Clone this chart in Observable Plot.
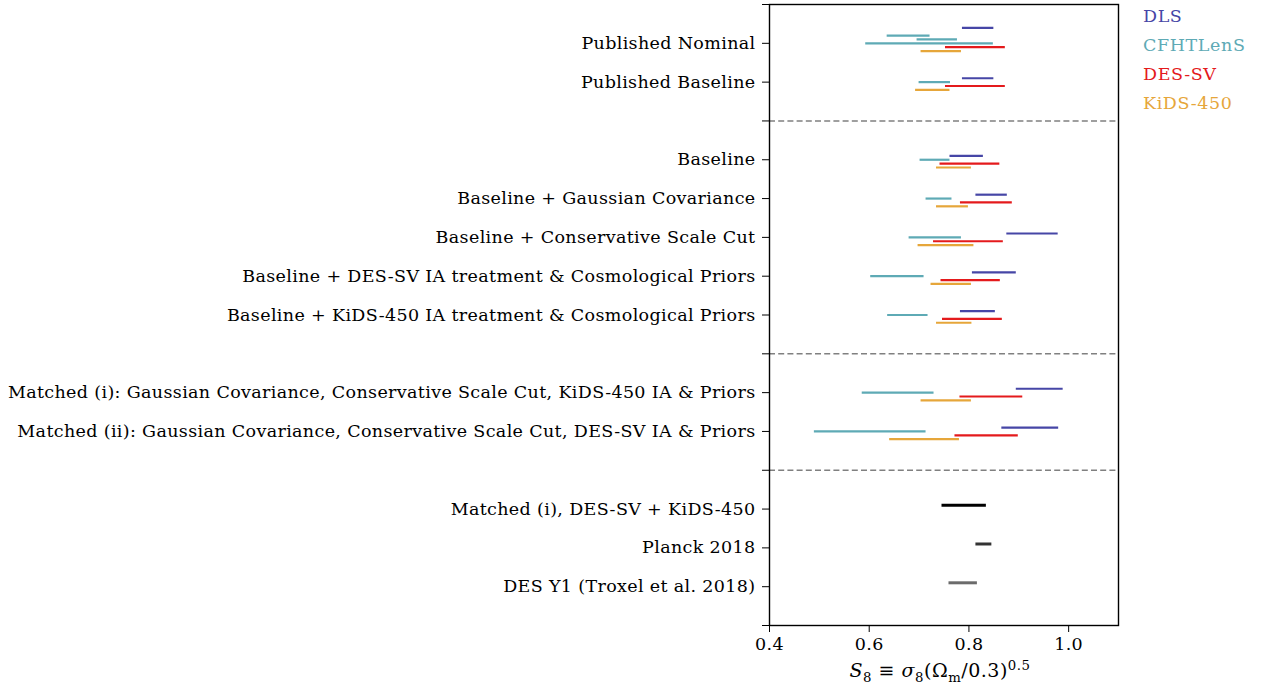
<!DOCTYPE html>
<html>
<head>
<meta charset="utf-8">
<script src="https://cdn.jsdelivr.net/npm/d3@7"></script>
<script src="https://cdn.jsdelivr.net/npm/@observablehq/plot@0.6"></script>
<style>
  body { margin: 0; background: #fff; }
  #wrap { position: relative; width: 1261px; height: 693px; font-family: "DejaVu Serif", serif; }
  #legend { position: absolute; left: 1143px; top: 2px; font-size: 17.5px; letter-spacing: 0.6px; line-height: 29px; }
  #xlabel { position: absolute; left: 0; width: 1261px; top: 659px; font-size: 19px; letter-spacing: 0.5px; }
  #xlabel span.inner { position: absolute; left: 940px; transform: translateX(-50%); white-space: nowrap; }
  sub, sup { font-size: 70%; line-height: 0; }
</style>
</head>
<body>
<div id="wrap"></div>
<script>
// ---- data ----
const rowLabels = [
  "",
  "Published Nominal",
  "Published Baseline",
  "",
  "Baseline",
  "Baseline + Gaussian Covariance",
  "Baseline + Conservative Scale Cut",
  "Baseline + DES-SV IA treatment & Cosmological Priors",
  "Baseline + KiDS-450 IA treatment & Cosmological Priors",
  "",
  "Matched (i): Gaussian Covariance, Conservative Scale Cut, KiDS-450 IA & Priors",
  "Matched (ii): Gaussian Covariance, Conservative Scale Cut, DES-SV IA & Priors",
  "",
  "Matched (i), DES-SV + KiDS-450",
  "Planck 2018",
  "DES Y1 (Troxel et al. 2018)",
  ""
];
const separatorRows = [3, 9, 12];

const surveys = ["DLS", "CFHTLenS", "DES-SV", "KiDS-450"];
const surveyColors = ["#4646a6", "#5eaab5", "#e41a1c", "#e6a63a"];
const surveyOffsets = [-0.1, 0, 0.1, 0.2];

// rows for the survey comparisons
const surveyRows = [1, 2, 4, 5, 6, 7, 8, 10, 11];
const dlsRanges = [[0.787,0.850],[0.787,0.850],[0.762,0.829],[0.814,0.877],[0.876,0.979],[0.807,0.895],[0.783,0.853],[0.895,0.989],[0.866,0.980]];
const cfhtRanges = [[0.593,0.849],[0.700,0.763],[0.702,0.762],[0.714,0.766],[0.680,0.785],[0.603,0.710],[0.637,0.718],[0.586,0.730],[0.490,0.714]];
const desRanges = [[0.753,0.873],[0.753,0.873],[0.742,0.862],[0.783,0.887],[0.729,0.869],[0.744,0.863],[0.747,0.867],[0.782,0.908],[0.772,0.899]];
const kidsRanges = [[0.704,0.785],[0.693,0.762],[0.735,0.805],[0.735,0.799],[0.698,0.810],[0.724,0.805],[0.735,0.806],[0.704,0.805],[0.641,0.781]];

// extra published-nominal CFHTLenS results and DLS offset in that row
const cfhtNominalExtra = [[0.636,0.722],[0.696,0.777]];
const cfhtNominalExtraOffsets = [-0.2, -0.1];
const dlsNominalOffset = -0.4;

// combined / external constraints
const combinedRows = [13, 14, 15];
const combinedRanges = [[0.746,0.835],[0.814,0.846],[0.760,0.817]];
const combinedColors = ["#000000", "#333333", "#6b6b6b"];
const combinedOffset = -0.1;

const xTicks = [0.4, 0.6, 0.8, 1.0];

// ---- build segments ----
const allRanges = [dlsRanges, cfhtRanges, desRanges, kidsRanges];
const segs = [];
allRanges.forEach((ranges, s) => {
  ranges.forEach((r, i) => {
    const row = surveyRows[i];
    let off = surveyOffsets[s];
    if (s === 0 && row === 1) off = dlsNominalOffset;
    segs.push({x1: r[0], x2: r[1], y: row + off, color: surveyColors[s], w: 2.2});
  });
});
cfhtNominalExtra.forEach((r, i) => {
  segs.push({x1: r[0], x2: r[1], y: 1 + cfhtNominalExtraOffsets[i], color: surveyColors[1], w: 2.2});
});
combinedRanges.forEach((r, i) => {
  segs.push({x1: r[0], x2: r[1], y: combinedRows[i] + combinedOffset, color: combinedColors[i], w: 3});
});

const font = '"DejaVu Serif", serif';

const chart = Plot.plot({
  width: 1261,
  height: 658,
  marginLeft: 769,
  marginRight: 143,
  marginTop: 4,
  marginBottom: 33,
  style: {fontFamily: font, fontSize: "17.5px", letterSpacing: "0.35px", background: "#fff", color: "#000"},
  x: {domain: [0.4, 1.1]},
  y: {domain: [0, 16], reverse: true},
  marks: [
    Plot.ruleY(separatorRows, {stroke: "#808080", strokeWidth: 1.6, strokeDasharray: "6,3.2"}),
    Plot.ruleY(segs, {x1: "x1", x2: "x2", y: "y", stroke: "color", strokeWidth: "w"}),
    Plot.frame({stroke: "#000", strokeWidth: 1.4}),
    Plot.axisY({
      ticks: d3.range(0, rowLabels.length),
      tickFormat: (d) => rowLabels[d] ?? "",
      tickSize: 7,
      tickPadding: 7,
      label: null,
      fontSize: 17.5
    }),
    Plot.axisX({
      ticks: xTicks,
      tickFormat: d3.format(".1f"),
      tickSize: 7,
      tickPadding: 5,
      label: null,
      fontSize: 17.5
    })
  ]
});

const wrap = document.getElementById("wrap");
wrap.appendChild(chart);

const legend = document.createElement("div");
legend.id = "legend";
surveys.forEach((s, i) => {
  const d = document.createElement("div");
  d.textContent = s;
  d.style.color = surveyColors[i];
  legend.appendChild(d);
});
wrap.appendChild(legend);

const xl = document.createElement("div");
xl.id = "xlabel";
xl.innerHTML = '<span class="inner"><i>S</i><sub>8</sub> \u2261 <i>\u03c3</i><sub>8</sub>(\u03a9<sub>m</sub>/0.3)<sup>0.5</sup></span>';
wrap.appendChild(xl);
</script>
</body>
</html>
